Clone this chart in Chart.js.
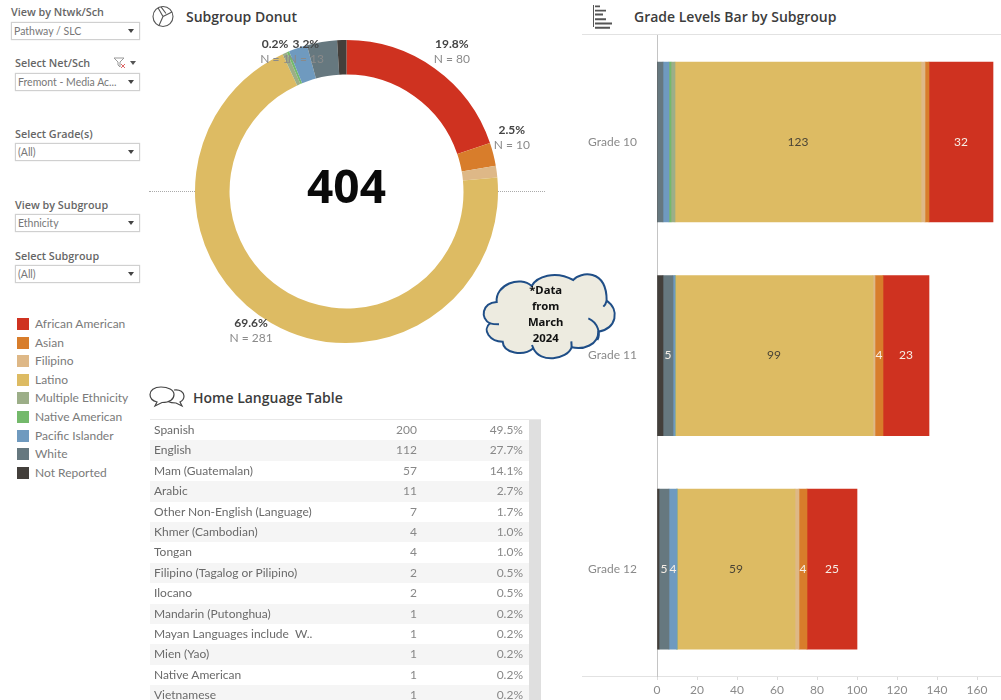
<!DOCTYPE html>
<html>
<head>
<meta charset="utf-8">
<script src="https://cdn.jsdelivr.net/npm/chart.js@4"></script>
<style>
html,body{margin:0;padding:0;background:#fff;width:1001px;height:700px;overflow:hidden;font-family:Lato,"Open Sans",sans-serif;}
.abs{position:absolute;}
canvas{position:absolute;display:block;}
.flabel{position:absolute;font-family:"Open Sans",sans-serif;font-size:10.8px;font-weight:600;color:#666;line-height:14px;white-space:nowrap;}
.fbox{position:absolute;box-sizing:border-box;height:18px;border:1px solid #d0d0d0;box-shadow:0 0 1px #ccc;font-size:10.5px;color:#777;line-height:16px;padding-left:2px;white-space:nowrap;}
.fbox:after{content:"";position:absolute;right:5px;top:6px;border-left:3.5px solid transparent;border-right:3.5px solid transparent;border-top:4px solid #444;}
.title{position:absolute;font-family:"Open Sans",sans-serif;font-size:14px;font-weight:600;color:#3c3c3c;line-height:18px;white-space:nowrap;}
.lg{position:absolute;left:17px;font-size:12px;color:#7a7a7a;line-height:14px;white-space:nowrap;}
.lg i{position:absolute;left:0;top:1px;width:12px;height:12px;}
.lg span{position:absolute;left:18px;top:0;}
.row{position:absolute;left:150px;width:379px;height:20.4px;font-size:12px;color:#6a6a6a;line-height:20.4px;}
.row b{font-weight:400;position:absolute;left:4px;white-space:pre;}
.row u{text-decoration:none;position:absolute;right:112px;color:#888;}
.row s{text-decoration:none;position:absolute;right:6px;color:#888;}
</style>
</head>
<body>
<div class="title" style="left:186px;top:8px">Subgroup Donut</div>
<div class="title" style="left:193px;top:389px">Home Language Table</div>
<div class="title" style="left:634px;top:8px">Grade Levels Bar by Subgroup</div>

<svg class="abs" style="left:152px;top:5px" width="24" height="24" viewBox="0 0 24 24" fill="none" stroke="#555" stroke-width="1.1">
<circle cx="11" cy="11.5" r="10"/><path d="M6 2.8 L11 11.5 L20 7 M11 11.5 L7 20.5 M9 1.8 L14 8.5"/></svg>
<svg class="abs" style="left:149px;top:385px" width="38" height="28" viewBox="0 0 38 28" fill="none" stroke="#444" stroke-width="1.2">
<path d="M12 2 C5 2 1 5.5 1 9.5 C1 13.5 4 16 8 17 L6 21 L13 17.5 C21 17.5 25 14 25 9.5 C25 5 19 2 12 2 Z"/>
<path d="M25 5 C31 4 35 7.5 35 11 C35 14 33 16 31 17 L33 21 L27 18 C24 18 21 17.5 19 16.5"/></svg>
<svg class="abs" style="left:592px;top:4px" width="30" height="26" viewBox="0 0 30 26" fill="none" stroke="#555">
<path d="M1.5 1 V23" stroke-width="1"/><path d="M3 2.5 H8 M3 7 H14 M3 11 H11 M3 16 H14 M3 16 M3 20.5 H20 M3 25 H18" stroke-width="2" transform="scale(1 .95)"/></svg>

<div class="abs" style="left:582px;top:34px;width:419px;height:1px;background:#e2e2e2"></div>
<div class="abs" style="left:582px;top:676px;width:75px;height:1px;background:#e2e2e2"></div>
<div class="abs" style="left:149px;top:191px;width:46px;border-top:1px dotted #aaa"></div>
<div class="abs" style="left:498px;top:191px;width:47px;border-top:1px dotted #aaa"></div>

<canvas id="donut" width="399" height="341" style="left:147px;top:21px"></canvas>
<canvas id="bars" width="413" height="672" style="left:588px;top:28px"></canvas>

<svg class="abs" style="left:150px;top:260px" width="480" height="180" viewBox="0 0 1440 540">
<path d="M1020 190 C990 175 995 130 1040 126 C1035 75 1110 45 1145 78 C1160 50 1215 30 1270 60 C1290 35 1370 25 1370 122 C1410 150 1400 205 1345 215 C1345 255 1300 270 1265 262 C1250 300 1170 310 1150 265 C1120 290 1060 280 1058 245 C1020 245 995 210 1020 190 Z" fill="#edebe0" stroke="#1f4e87" stroke-width="6"/>
<path d="M1020 190 C1030 193 1040 193 1047 193 M1315 175 C1345 188 1352 222 1342 240 M1370 122 C1368 130 1365 135 1360 140 M1265 262 L1264 244 M1150 265 L1146 255" fill="none" stroke="#1f4e87" stroke-width="6"/>
<g font-family="'Noto Sans',sans-serif" font-weight="700" font-size="34" fill="#111" text-anchor="middle">
<text x="1187" y="102">*Data</text><text x="1187" y="150">from</text><text x="1187" y="198">March</text><text x="1187" y="246">2024</text>
</g></svg>

<div id="filters"></div>
<div id="legend"></div>
<div id="table"></div>
<div class="abs" style="left:529px;top:420px;width:12px;height:280px;background:#dfdfdf"></div>
<div class="abs" style="left:150px;top:419px;width:391px;height:1px;background:#e8e8e8"></div>

<script>
const subgroups=["African American","Asian","Filipino","Latino","Multiple Ethnicity","Native American","Pacific Islander","White","Not Reported"];
const subgroupColors=["#cf3220","#d87d2b","#deb887","#ddbb63","#9cae88","#74b96b","#6f9abf","#66787f","#433f3b"];
const donutCounts=[80,10,5,281,2,1,8,13,4];
const donutTotal=404;
const grades=["Grade 10","Grade 11","Grade 12"];
const africanAmerican=[32,23,25];
const asian=[2,4,4];
const filipino=[2,1,2];
const latino=[123,99,59];
const multipleEthnicity=[2,0,0];
const nativeAmerican=[1,0,0];
const pacificIslander=[3,1,4];
const white=[3,5,5];
const notReported=[0,3,1];
const xTicks=[0,20,40,60,80,100,120,140,160];
const languages=["Spanish","English","Mam (Guatemalan)","Arabic","Other Non-English (Language)","Khmer (Cambodian)","Tongan","Filipino (Tagalog or Pilipino)","Ilocano","Mandarin (Putonghua)","Mayan Languages include  W..","Mien (Yao)","Native American","Vietnamese"];
const languageCounts=[200,112,57,11,7,4,4,2,2,1,1,1,1,1];
const languagePct=["49.5%","27.7%","14.1%","2.7%","1.7%","1.0%","1.0%","0.5%","0.5%","0.2%","0.2%","0.2%","0.2%","0.2%"];
const filterNames=["View by Ntwk/Sch","Select Net/Sch","Select Grade(s)","View by Subgroup","Select Subgroup"];
const filterValues=["Pathway / SLC","Fremont - Media Ac...","(All)","Ethnicity","(All)"];

// --- page furniture
const fl=[[11,5,22,129],[15,56,73,125],[15,127,143,125],[15,198,214,125],[15,249,265,125]];
document.getElementById('filters').innerHTML=filterNames.map((n,i)=>{const p=fl[i];
 return `<div class="flabel" style="left:${p[0]}px;top:${p[1]}px">${n}</div><div class="fbox" style="left:${p[0]}px;top:${p[2]}px;width:${p[3]}px">${filterValues[i]}</div>`}).join('')+
 `<svg class="abs" style="left:113px;top:57px" width="14" height="12" viewBox="0 0 14 12" fill="none" stroke="#999"><path d="M1 1 H11 L7 5 V10 L5 8 V5 Z"/><path d="M8 7 L12 11 M12 7 L8 11" stroke="#d66"/></svg>
 <div class="abs" style="left:130px;top:61px;border-left:3.5px solid transparent;border-right:3.5px solid transparent;border-top:4px solid #555"></div>`;
document.getElementById('legend').innerHTML=subgroups.map((n,i)=>
 `<div class="lg" style="top:${317+i*18.6}px"><i style="background:${subgroupColors[i]}"></i><span>${n}</span></div>`).join('');
document.getElementById('table').innerHTML=languages.map((n,i)=>
 `<div class="row" style="top:${420+i*20.4}px;background:${i%2?'#f5f5f5':'#fff'}"><b>${n}</b><u>${languageCounts[i]}</u><s>${languagePct[i]}</s></div>`).join('');

// --- donut
const donutLabelOffsets={0:[17,-24],1:[18.5,-24],3:[-20,0],5:[-13,-8],7:[-16,2]};
const donutLabels={id:'donutLabels',afterDatasetsDraw(chart){
 const c=chart.ctx,meta=chart.getDatasetMeta(0);
 c.save();c.textAlign='center';c.textBaseline='middle';
 meta.data.forEach((arc,i)=>{
  const off=donutLabelOffsets[i];if(!off)return;
  const p=arc.getProps(['x','y','startAngle','endAngle','outerRadius']);
  const a=(p.startAngle+p.endAngle)/2;
  const x=p.x+Math.cos(a)*p.outerRadius+off[0],y=p.y+Math.sin(a)*p.outerRadius+off[1];
  c.font='700 12px Lato';c.fillStyle='#444';
  c.fillText((donutCounts[i]/donutTotal*100).toFixed(1)+'%',x,y);
  c.font='12px Lato';c.fillStyle='#8a8a8a';
  c.fillText('N = '+donutCounts[i],x,y+15);
 });
 const p0=meta.data[0];
 c.font='700 46px "Noto Sans"';c.fillStyle='#0a0a0a';
 c.fillText(String(donutTotal),p0.x,p0.y-2);
 c.restore();
}};
new Chart(document.getElementById('donut'),{type:'doughnut',
 data:{labels:subgroups,datasets:[{data:donutCounts,backgroundColor:subgroupColors,borderWidth:0,radius:151.5,cutout:'77.2%'}]},
 options:{responsive:false,animation:false,layout:{padding:0},plugins:{legend:{display:false},tooltip:{enabled:false}}},
 plugins:[donutLabels]});

// --- stacked bars (left-to-right: last subgroup first)
const seriesBySubgroup=[africanAmerican,asian,filipino,latino,multipleEthnicity,nativeAmerican,pacificIslander,white,notReported];
const stackOrder=[8,7,6,5,4,3,2,1,0];
const barLabels={id:'barLabels',afterDatasetsDraw(chart){
 const c=chart.ctx;c.save();c.textAlign='center';c.textBaseline='middle';c.font='12px Lato';
 chart.data.datasets.forEach((ds,d)=>{
  chart.getDatasetMeta(d).data.forEach((bar,i)=>{
   if(ds.data[i]<4)return;
   c.fillStyle=ds.label==='Latino'?'#4a4436':'#f6eee6';
   const r=bar.getProps(['x','y','base']);
   c.fillText(String(ds.data[i]),(r.x+r.base)/2,r.y);
  });
 });
 c.restore();
}};
new Chart(document.getElementById('bars'),{type:'bar',
 data:{labels:grades,datasets:stackOrder.map(k=>({label:subgroups[k],data:seriesBySubgroup[k],backgroundColor:subgroupColors[k],borderWidth:0,barThickness:160}))},
 options:{indexAxis:'y',responsive:false,animation:false,layout:{padding:0},
  plugins:{legend:{display:false},tooltip:{enabled:false}},
  scales:{
   x:{stacked:true,min:0,max:172,afterFit(a){a.height=24},
      afterBuildTicks(a){a.ticks=xTicks.map(v=>({value:v}))},
      border:{color:'#e2e2e2'},grid:{drawOnChartArea:false,drawTicks:true,tickLength:4,color:'#dcdcdc'},
      ticks:{autoSkip:false,maxRotation:0,padding:3,color:'#8a8a8a',font:{family:'Lato',size:12}}},
   y:{stacked:true,afterFit(a){a.width=69},
      border:{color:'#c4c4c4',dash:[1,2]},grid:{display:false,drawTicks:false,drawOnChartArea:false},
      ticks:{crossAlign:'far',padding:0,color:'#8a8a8a',font:{family:'Lato',size:12}}}
  }},
 plugins:[barLabels]});
</script>
</body>
</html>
